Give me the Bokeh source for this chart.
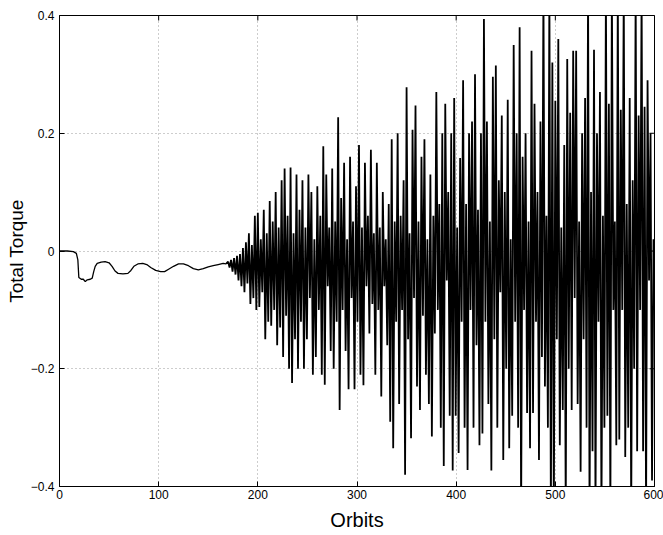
import math
from bokeh.plotting import figure
from bokeh.models import Range1d, FixedTicker, CustomJSTickFormatter
from bokeh.embed import file_html
from bokeh.resources import INLINE

# Smooth early phase (orbits, torque)
smooth_orbits = [0, 8, 14, 17, 18.5, 19.5, 22, 24, 26, 28, 31, 33, 34.5, 36, 38, 42, 46, 50,
                 53, 56, 59, 64, 69, 72, 75, 79, 84, 88, 92, 97, 102, 106, 110, 115, 120,
                 125, 130, 135, 140, 145, 150, 155, 160, 165, 168]
smooth_torque = [0.0, 0.0, -0.001, -0.004, -0.015, -0.045, -0.048, -0.048, -0.052, -0.049,
                 -0.048, -0.046, -0.035, -0.026, -0.021, -0.019, -0.018, -0.020, -0.026,
                 -0.034, -0.038, -0.039, -0.038, -0.033, -0.026, -0.022, -0.021, -0.023,
                 -0.028, -0.033, -0.035, -0.035, -0.031, -0.026, -0.022, -0.022, -0.025,
                 -0.030, -0.032, -0.030, -0.027, -0.025, -0.023, -0.021, -0.022]

# Oscillating phase: one sample every 1.5 orbits starting at orbit 170
osc_start = 170.0
osc_step = 1.5
osc_torque = [
    -0.018, -0.028, -0.015, -0.035, -0.012, -0.040, -0.008, -0.050, -0.005, -0.060,   # 170-185
    0.005, -0.070, 0.015, -0.055, 0.030, -0.090, 0.010, -0.080, 0.060, -0.100,        # 185-200
    0.065, -0.095, 0.020, -0.070, 0.070, -0.150, 0.030, -0.120, 0.085, -0.127,        # 200-215
    0.050, -0.100, 0.100, -0.160, 0.040, -0.130, 0.120, -0.180, 0.140, -0.110,        # 215-230
    0.060, -0.200, 0.142, -0.224, 0.030, -0.150, 0.130, -0.200, 0.070, -0.120,        # 230-245
    0.120, -0.200, 0.040, -0.150, 0.130, -0.080, 0.100, -0.210, 0.020, -0.180,        # 245-260
    0.110, -0.100, 0.060, -0.210, 0.178, -0.227, 0.130, -0.060, 0.040, -0.170,        # 260-275
    0.140, -0.200, 0.050, -0.120, 0.227, -0.270, 0.090, -0.100, 0.150, -0.170,        # 275-290
    0.020, -0.235, 0.160, -0.080, 0.050, -0.235, 0.110, -0.120, 0.180, -0.210,        # 290-305
    0.040, -0.228, 0.150, -0.060, 0.060, -0.140, 0.172, -0.090, 0.030, -0.210,        # 305-320
    0.150, -0.100, 0.040, -0.247, 0.100, -0.060, 0.020, -0.160, 0.080, -0.290,        # 320-335
    0.190, -0.335, 0.050, -0.120, 0.200, -0.260, 0.060, -0.100, 0.120, -0.380,        # 335-350
    0.278, -0.150, 0.030, -0.318, 0.206, -0.080, 0.247, -0.230, 0.050, -0.270,        # 350-365
    0.160, -0.110, 0.190, -0.210, 0.020, -0.260, 0.130, -0.315, 0.060, -0.140,        # 365-380
    0.270, -0.100, 0.080, -0.300, 0.200, -0.365, 0.250, -0.050, 0.100, -0.280,        # 380-395
    0.200, -0.373, 0.260, -0.280, 0.040, -0.343, 0.158, -0.120, 0.290, -0.300,        # 395-410
    0.080, -0.372, 0.200, -0.100, 0.220, -0.300, 0.300, -0.160, 0.070, -0.330,        # 410-425
    0.200, -0.310, 0.394, -0.120, 0.220, -0.260, 0.050, -0.373, 0.296, -0.150,        # 425-440
    0.315, -0.300, 0.120, -0.070, 0.230, -0.355, 0.100, -0.200, 0.257, -0.335,        # 440-455
    0.020, -0.280, 0.350, -0.120, 0.200, -0.300, 0.380, -0.450, 0.160, -0.100,        # 455-470
    0.200, -0.275, 0.050, -0.335, 0.340, -0.275, 0.250, -0.120, 0.100, -0.355,        # 470-485
    0.220, -0.180, 0.450, -0.230, 0.060, -0.300, 0.450, -0.450, 0.320, -0.450,        # 485-500
    0.255, -0.150, 0.360, -0.330, 0.040, -0.270, 0.180, -0.450, 0.326, -0.200,        # 500-515
    0.235, -0.270, 0.340, -0.080, 0.340, -0.260, 0.050, -0.375, 0.200, -0.150,        # 515-530
    0.260, -0.300, 0.450, -0.450, 0.100, -0.340, 0.342, -0.450, 0.200, -0.120,        # 530-545
    0.270, -0.450, 0.060, -0.300, 0.450, -0.280, 0.250, -0.450, 0.450, -0.100,        # 545-560
    0.050, -0.330, 0.450, -0.320, 0.240, -0.100, 0.450, -0.350, 0.080, -0.300,        # 560-575
    0.260, -0.450, 0.120, -0.200, 0.450, -0.340, 0.230, -0.100, 0.450, -0.340,        # 575-590
    0.245, -0.450, 0.290, -0.050, 0.200, -0.390, 0.020,                               # 590-599
]
osc_orbits = [osc_start + osc_step * i for i in range(len(osc_torque))]

x_ticks = [0, 100, 200, 300, 400, 500, 600]
y_ticks = [-0.4, -0.2, 0, 0.2, 0.4]
x_min, x_max = 0, 600
y_min, y_max = -0.4, 0.4

FONT = "Liberation Sans"

p = figure(width=663, height=535,
           x_range=Range1d(x_min, x_max), y_range=Range1d(y_min, y_max),
           output_backend="svg", toolbar_location=None,
           min_border_left=59, min_border_right=9,
           min_border_top=15, min_border_bottom=49)

p.xgrid.ticker = FixedTicker(ticks=x_ticks)
p.ygrid.ticker = FixedTicker(ticks=y_ticks)
for g in (p.xgrid[0], p.ygrid[0]):
    g.grid_line_color = "#9a9a9a"
    g.grid_line_dash = "1 3"
    g.grid_line_width = 1

# smooth part, then the oscillating part continuing from the last smooth sample
p.line(smooth_orbits, smooth_torque, line_color="black", line_width=1.3)
p.line(smooth_orbits[-1:] + osc_orbits, smooth_torque[-1:] + osc_torque,
       line_color="black", line_width=1.8)

# inward ticks on the top and right edges of the box (half of each dash is clipped by the frame)
p.scatter(x=x_ticks, y=[y_max] * len(x_ticks), marker="dash", angle=math.pi / 2,
          size=10, line_color="black", line_width=1)
p.scatter(x=[x_max] * len(y_ticks), y=y_ticks, marker="dash",
          size=10, line_color="black", line_width=1)

fmt = CustomJSTickFormatter(code="""
    if (Math.abs(tick) < 1e-9) { return "0"; }
    var s = Math.abs(tick).toString();
    return tick < 0 ? "\\u2212" + s : s;
""")

for ax in (p.xaxis[0], p.yaxis[0]):
    ax.major_tick_in = 5
    ax.major_tick_out = 0
    ax.minor_tick_in = 0
    ax.minor_tick_out = 0
    ax.minor_tick_line_color = None
    ax.axis_line_color = "black"
    ax.major_tick_line_color = "black"
    ax.major_label_text_font = FONT
    ax.major_label_text_font_size = "12px"
    ax.major_label_text_color = "black"
    ax.axis_label_text_font = FONT
    ax.axis_label_text_font_style = "normal"
    ax.axis_label_text_color = "black"
    ax.formatter = fmt

p.xaxis.ticker = FixedTicker(ticks=x_ticks)
p.yaxis.ticker = FixedTicker(ticks=y_ticks)
p.xaxis.axis_label = "Orbits"
p.yaxis.axis_label = "Total Torque"
p.xaxis.axis_label_text_font_size = "20px"
p.yaxis.axis_label_text_font_size = "19px"
p.xaxis.major_label_standoff = 3
p.yaxis.major_label_standoff = 5
p.xaxis.axis_label_standoff = 7
p.yaxis.axis_label_standoff = 1

p.outline_line_color = "black"
p.outline_line_width = 1
p.background_fill_color = "white"
p.border_fill_color = "white"

open("out.html", "w").write(file_html(p, INLINE))
